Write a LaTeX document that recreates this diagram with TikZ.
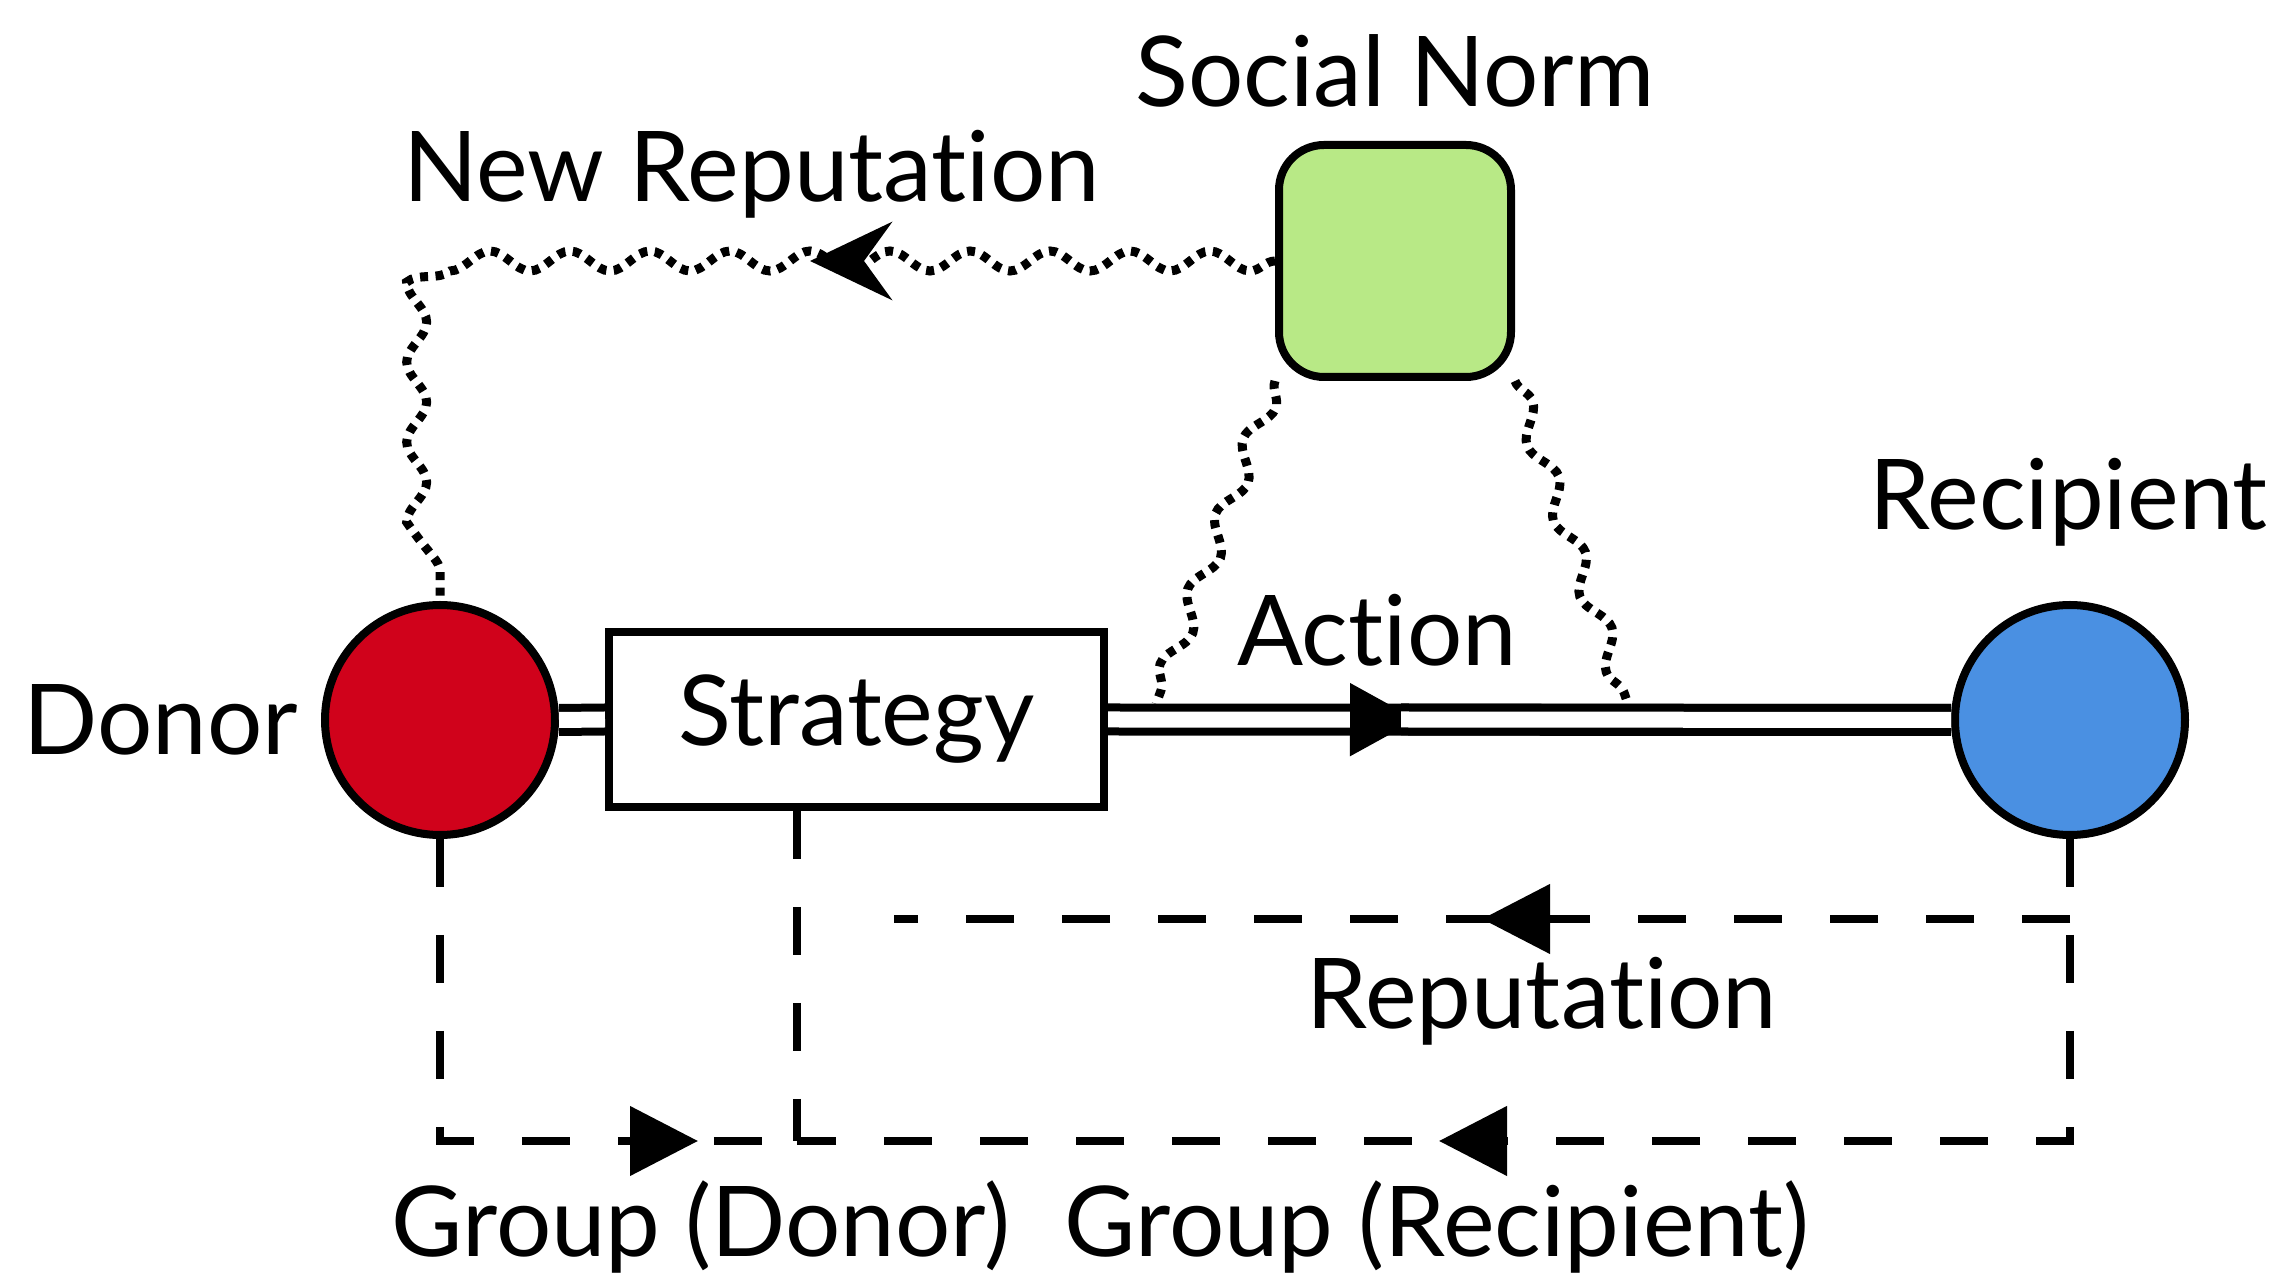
\documentclass[tikz,border=0pt]{standalone}
\usepackage{fontspec}
\setmainfont{Lato}[Ligatures=NoCommon]
\usetikzlibrary{arrows.meta,positioning,calc,decorations.pathmorphing,decorations.markings}

\definecolor{donorred}{HTML}{D0021B}
\definecolor{recipblue}{HTML}{4A90E2}
\definecolor{normgreen}{HTML}{B8E986}

\begin{document}
\begin{tikzpicture}[
	font=\fontsize{27.8}{33}\selectfont,
	line width=0.08cm,
	>={Triangle[length=0.68cm,width=0.68cm]},
	agent/.style={circle,draw,minimum size=2.30cm,inner sep=0pt},
	box/.style={rectangle,draw,minimum width=4.95cm,minimum height=1.75cm},
	wavy/.style={decorate,decoration={snake,amplitude=0.1cm,segment length=0.8cm},line width=0.09cm,dash pattern=on 0.08cm off 0.075cm},
	info/.style={dash pattern=on 0.48cm off 0.48cm},
	link/.style={double,double distance=0.16cm},
	midtip/.style 2 args={postaction={decorate,decoration={markings,mark=at position #1 with {\arrow{#2}}}}}
]
	\useasboundingbox (0,0) rectangle (22.79,12.84);

	% players and the norm
	\node[agent,fill=donorred ] (donor) at (4.40,5.64) {};
	\node[agent,fill=recipblue] (rec)   at (20.70,5.64) {};
	\node[box] (strat) at (8.565,5.645) {Strategy};
	\node[draw,fill=normgreen,rounded corners=0.45cm,minimum size=2.32cm] (norm) at (13.95,10.23) {};

	\coordinate (join)   at (7.97,1.43);
	\coordinate (repend) at (8.94,3.65);
	\coordinate (act1)   at (11.56,5.80);
	\coordinate (act2)   at (16.28,5.80);
	\coordinate (actgap) at ($(strat.east)+(2.93,0)$);
	\coordinate (bend)   at (norm.west -| donor.north);

	% action
	\draw[link] (donor.east) -- (strat.west);
	\draw[link,midtip={3.10cm}{>}] (strat.east) -- (rec.west);
	\draw[link] (actgap) -- (rec.west);

	% observations
	\draw[info,midtip={5.60cm}{>}] (donor.south) |- (join);
	\draw[info,midtip={9.33cm}{>}] (rec.south) |- (join);
	\draw[info] (join |- strat.south) -- (join);
	\draw[info,midtip={0.5}{>}] (repend -| rec.south) -- (repend);

	% norm assigns the new reputation
	\draw[wavy] (norm.west) -- ([xshift=0.35cm]bend) arc[start angle=90,end angle=180,radius=0.35cm] -- (donor.north);
	\path[midtip={4.65cm}{Stealth[length=0.82cm,width=0.78cm,inset=0.28cm]}] (norm.west) -- (bend);
	\draw[wavy] (norm.south west) -- (act1);
	\draw[wavy] (norm.south east) -- (act2);

	% labels
	\node[anchor=base] (normlbl)   at (13.95,11.77) {Social Norm};
	\node[anchor=base] (newreplbl) at (7.515,10.82) {New Reputation};
	\node[anchor=base] (actlbl)    at (13.77,6.18)  {Action};
	\node[anchor=base] (donorlbl)  at (1.61,5.29)   {Donor};
	\node[anchor=base] (reclbl)    at (20.685,7.54) {Recipient};
	\node[anchor=base] (replbl)    at (15.42,2.55)  {Reputation};
	\node[anchor=base] (grpdlbl)   at (7.01,0.27)   {Group (Donor)};
	\node[anchor=base] (grprlbl)   at (14.37,0.27)  {Group (Recipient)};
\end{tikzpicture}
\end{document}
